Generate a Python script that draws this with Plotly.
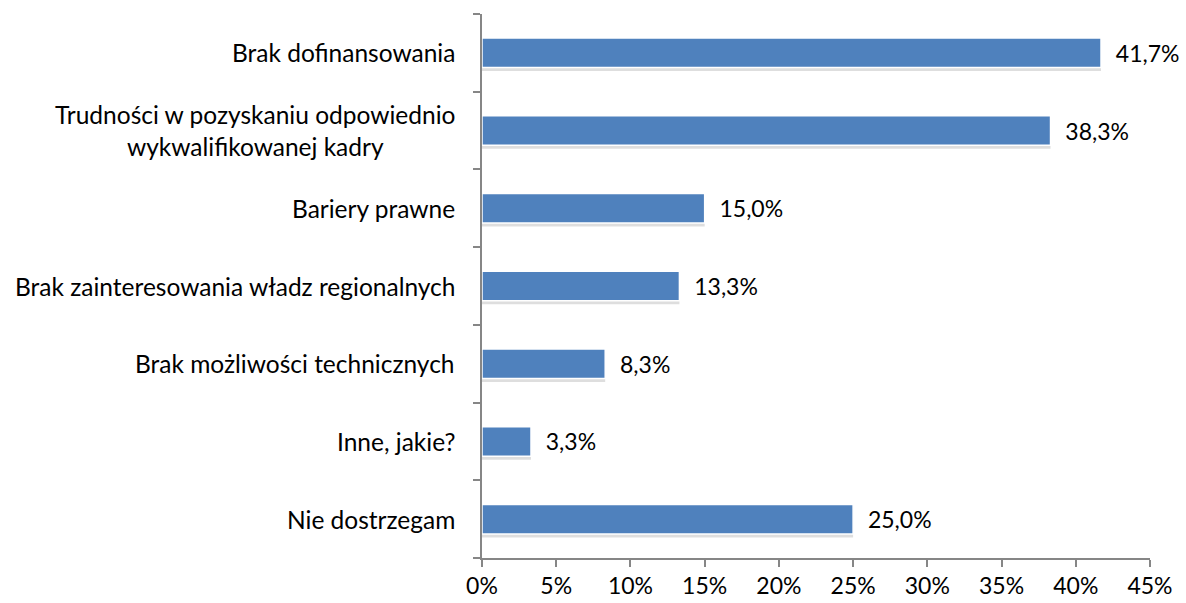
import plotly.graph_objects as go

categories = [
    "Brak dofinansowania",
    "Trudności w pozyskaniu odpowiednio<br>wykwalifikowanej kadry",
    "Bariery prawne",
    "Brak zainteresowania władz regionalnych",
    "Brak możliwości technicznych",
    "Inne, jakie?",
    "Nie dostrzegam",
]
values = [41.7, 38.3, 15.0, 13.3, 8.3, 3.3, 25.0]
x_ticks = [0, 5, 10, 15, 20, 25, 30, 35, 40, 45]
x_tick_labels = [f"{v}%" for v in x_ticks]

FONT = "Lato, Open Sans, sans-serif"
AXIS_COLOR = "#868686"
BAR_W = 0.38

fig = go.Figure()
# soft drop shadow below each bar
fig.add_trace(go.Bar(
    y=categories,
    x=values,
    orientation="h",
    marker=dict(color="rgba(0,0,0,0.13)", line=dict(width=0)),
    width=BAR_W,
    offset=-BAR_W / 2 - 0.045,
    hoverinfo="skip",
))
fig.add_trace(go.Bar(
    y=categories,
    x=values,
    orientation="h",
    marker=dict(color="#4F81BD", line=dict(color="white", width=1.5)),
    width=BAR_W,
    offset=-BAR_W / 2,
    text=[f"{v:.1f}".replace(".", ",") + "%" for v in values],
    textposition="outside",
    texttemplate="  %{text}",
    textfont=dict(family=FONT, size=23, color="black"),
    cliponaxis=False,
    hoverinfo="skip",
))

for cat in categories:
    fig.add_annotation(
        x=0, xref="paper", xanchor="right", xshift=-25,
        y=cat, yref="y",
        text=cat, showarrow=False, align="center",
        font=dict(family=FONT, size=24.5, color="black"),
    )

fig.update_layout(
    width=1186, height=603,
    margin=dict(l=482, r=36, t=14, b=45),
    plot_bgcolor="white", paper_bgcolor="white",
    showlegend=False, barmode="overlay",
    font=dict(family=FONT, size=23, color="black"),
)
fig.update_xaxes(
    range=[0, 45], tickvals=x_ticks, ticktext=x_tick_labels,
    showgrid=False, zeroline=False, automargin=False,
    showline=True, linecolor=AXIS_COLOR, linewidth=1.5,
    ticks="outside", ticklen=7, tickcolor=AXIS_COLOR, tickwidth=1.5,
    tickfont=dict(family=FONT, size=23, color="black"),
)
fig.update_yaxes(
    categoryorder="array", categoryarray=categories[::-1],
    showgrid=False, zeroline=False, automargin=False,
    showline=True, linecolor=AXIS_COLOR, linewidth=1.5,
    ticks="outside", ticklen=7, tickcolor=AXIS_COLOR, tickwidth=1.5,
    tickson="boundaries", showticklabels=False,
)

fig.write_html(
    "out.html",
    config={"displayModeBar": False},
    post_script="document.body.style.margin='0';document.body.style.overflow='hidden';",
)
